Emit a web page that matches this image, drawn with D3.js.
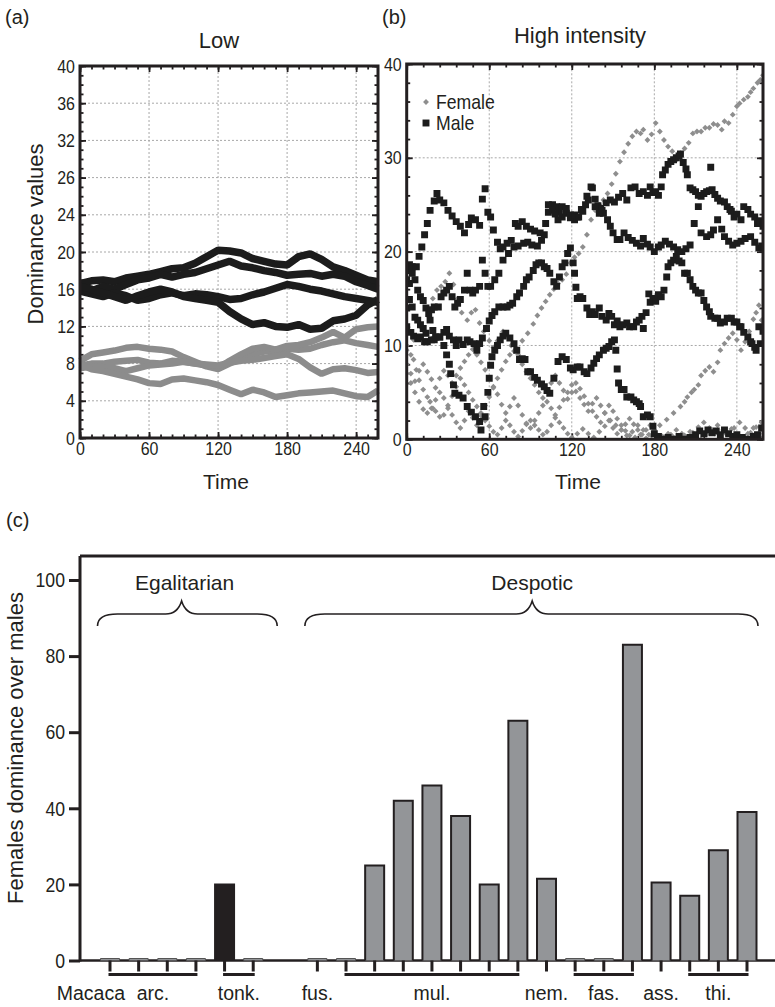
<!DOCTYPE html>
<html>
<head>
<meta charset="utf-8">
<script src="https://cdn.jsdelivr.net/npm/d3@7"></script>
<style>
  body { margin: 0; background: #fff; }
</style>
</head>
<body>
<svg id="chart" width="775" height="1007"></svg>
<script>
// ---------- data: panel (a) Low ----------
var timeLow = [0,10,20,30,40,50,60,70,80,90,100,110,120,130,140,150,160,170,180,190,200,210,220,230,240,250,259];
var maleLow1 = [16.6,16.9,17.0,16.8,17.2,17.4,17.6,17.9,18.2,18.3,18.8,19.5,20.2,20.1,19.9,19.3,19.0,18.7,18.6,19.5,19.8,19.2,18.4,18.0,17.5,17.0,16.8];
var maleLow2 = [16.0,15.8,16.3,16.0,16.5,17.0,17.2,17.6,17.3,17.6,17.8,18.2,18.6,19.0,18.5,18.3,18.0,17.8,17.5,17.6,17.7,17.4,17.6,17.4,16.8,16.4,16.0];
var maleLow3 = [15.8,15.5,15.2,15.6,15.3,14.8,15.0,15.4,15.6,15.3,15.5,15.4,15.2,14.9,15.0,15.4,15.7,16.1,16.5,16.3,16.0,15.8,15.5,15.2,15.0,14.8,14.6];
var maleLow4 = [16.3,16.0,15.6,15.2,14.8,15.3,15.7,16.0,15.7,15.2,15.0,14.8,14.6,13.6,12.8,12.2,12.4,12.0,11.9,12.2,11.7,11.8,12.6,12.8,13.2,14.3,14.9];
var femaleLow1 = [8.3,9.0,9.2,9.4,9.7,9.8,9.6,9.5,9.3,8.7,8.2,7.7,7.4,8.0,8.6,9.0,9.3,9.4,9.6,9.5,9.6,10.0,10.3,10.5,10.2,10.0,9.8];
var femaleLow2 = [7.8,8.0,8.0,8.2,8.3,8.4,8.1,8.0,8.3,8.2,8.0,7.8,7.5,8.3,9.0,9.6,9.8,9.5,9.9,10.0,10.3,10.8,11.4,10.8,11.7,11.9,12.0];
var femaleLow3 = [7.5,7.7,7.6,7.5,7.2,7.5,7.8,7.9,8.0,8.2,8.0,7.9,7.8,8.1,8.3,8.4,8.6,8.8,9.0,8.5,7.6,6.9,7.4,7.5,7.3,7.0,7.1];
var femaleLow4 = [7.9,7.4,7.2,6.9,6.6,6.3,5.9,5.8,6.3,6.4,6.2,6.0,5.7,5.2,4.7,5.2,4.9,4.4,4.6,4.8,4.9,5.0,5.1,4.8,4.5,4.4,5.1];
var yTicksLow = [0,4,8,12,16,20,24,28,32,36,40];
var yTickLabelsLow = ["0","4","8","12","16","20","24","26","32","36","40"];
var xTicksTime = [0,60,120,180,240];

// ---------- data: panel (b) High intensity, [time, value] ----------
var maleHigh1 = [[0,18.0],[2,18.6],[4,18.4],[7,18.4],[9,19.5],[11,20.5],[13,21.8],[15,23.0],[17,24.4],[20,25.4],[22,26.2],[24,25.5],[27,25.2],[30,24.4],[33,23.8],[36,23.2],[39,22.7],[42,22.0],[45,22.9],[47,23.6],[50,23.4],[53,22.8],[55,25.6],[57,26.7],[59,24.2],[61,23.7],[63,22.3],[66,21.0],[68,20.3],[70,20.5],[73,20.9],[76,21.2],[79,23.0],[81,22.7],[84,23.2],[87,22.7],[90,22.4],[93,22.2],[97,22.0],[100,21.8],[103,24.2],[106,25.0],[109,24.8],[111,24.2],[113,23.7],[116,24.1],[119,23.6],[122,23.4],[124,23.7],[127,24.5],[130,25.0],[132,25.5],[135,26.8],[137,25.6],[139,24.9],[141,24.6],[143,24.1],[146,23.4],[148,22.7],[150,22.0],[153,21.3],[155,21.3],[158,22.0],[161,21.5],[164,21.2],[167,20.9],[170,20.6],[172,21.4],[175,20.8],[177,20.5],[180,20.0],[183,20.5],[185,20.7],[188,21.1],[191,20.8],[194,20.5],[197,20.2],[200,20.0],[203,20.3],[206,20.7],[209,23.0],[212,24.8],[214,22.0],[218,21.6],[221,21.8],[223,22.3],[226,23.4],[229,22.4],[231,21.6],[234,21.1],[237,20.7],[240,20.9],[243,21.1],[246,21.4],[250,21.6],[253,21.0],[256,20.4],[258,20.6]];
var maleHigh2 = [[0,17.0],[2,16.6],[4,17.7],[6,17.0],[8,15.9],[10,15.2],[12,14.8],[14,14.0],[16,13.4],[18,13.8],[20,14.1],[23,14.1],[25,15.2],[27,15.6],[29,15.9],[31,16.3],[33,15.2],[35,14.1],[37,14.5],[39,14.9],[42,15.9],[44,17.7],[46,15.9],[48,15.6],[50,15.9],[53,16.3],[55,19.1],[57,17.7],[59,16.3],[61,16.3],[64,17.0],[67,17.7],[70,19.1],[74,19.8],[78,20.5],[81,20.6],[85,20.9],[88,21.0],[91,20.7],[95,20.6],[98,21.2],[101,23.0],[103,25.0],[106,24.4],[108,24.0],[110,23.4],[113,24.8],[116,24.6],[119,23.9],[122,23.9],[125,23.7],[128,24.3],[131,25.9],[134,26.9],[137,24.8],[140,24.1],[142,24.4],[145,25.2],[148,25.5],[151,25.3],[154,25.8],[157,26.2],[160,25.5],[163,26.8],[166,26.9],[169,26.2],[172,26.4],[175,26.0],[177,26.9],[179,26.3],[181,26.4],[183,26.0],[185,26.9],[186,28.2],[188,28.7],[190,29.3],[192,29.6],[194,29.8],[196,30.0],[198,30.2],[199,30.4],[201,29.5],[203,28.8],[204,28.2],[206,26.8],[208,26.6],[210,26.4],[212,26.0],[214,25.9],[216,26.2],[218,26.4],[220,26.5],[221,29.0],[222,26.6],[224,26.1],[226,25.7],[228,25.4],[231,25.3],[233,24.8],[235,24.5],[236,24.3],[238,23.7],[240,24.0],[243,23.4],[245,24.8],[248,24.5],[250,24.0],[253,23.7],[255,23.0],[257,23.3],[259,22.7]];
var maleHigh3 = [[0,14.0],[2,14.9],[4,14.1],[6,13.0],[8,12.7],[10,12.2],[12,11.8],[14,11.3],[17,12.7],[19,11.6],[21,10.9],[24,10.9],[27,11.4],[29,11.7],[31,11.0],[34,10.6],[36,10.0],[38,10.6],[41,10.1],[44,10.6],[46,10.4],[49,10.2],[51,9.5],[53,10.2],[55,10.8],[58,11.8],[60,12.6],[62,13.2],[64,13.6],[67,14.1],[70,14.1],[73,14.1],[75,14.3],[77,14.5],[80,15.2],[82,15.6],[85,16.3],[87,17.0],[89,17.3],[92,18.0],[94,18.6],[96,18.8],[98,18.8],[100,18.4],[102,18.2],[104,17.7],[107,16.8],[109,16.3],[111,17.3],[113,18.4],[115,18.8],[117,19.8],[119,20.4],[121,18.8],[122,17.7],[123,16.2],[124,15.0],[126,15.2],[128,15.0],[131,14.0],[133,13.3],[135,13.6],[137,13.3],[140,14.0],[142,13.1],[145,12.7],[147,13.4],[149,13.1],[151,12.2],[153,12.6],[155,12.0],[157,12.2],[160,12.4],[162,12.0],[165,12.0],[167,12.5],[169,12.7],[171,13.1],[172,11.8],[174,13.5],[176,15.5],[177,14.6],[179,15.0],[181,14.7],[183,15.4],[185,15.2],[187,15.9],[189,17.3],[190,18.4],[192,18.8],[194,19.1],[196,19.5],[198,19.0],[200,18.8],[202,17.7],[204,17.7],[206,17.0],[208,16.3],[210,15.9],[212,15.6],[214,15.6],[216,14.8],[218,14.1],[220,13.6],[221,13.1],[224,12.9],[226,12.9],[228,12.4],[231,12.5],[233,12.9],[236,12.9],[238,12.5],[240,12.5],[242,12.0],[243,12.0],[245,11.4],[248,10.9],[250,10.4],[251,10.2],[253,9.8],[254,9.5],[256,12.0],[257,10.2],[259,11.5]];
var maleHigh4 = [[0,12.0],[3,11.4],[5,11.0],[8,10.7],[10,10.9],[13,10.4],[15,10.4],[18,10.6],[20,10.6],[24,10.9],[27,10.0],[29,9.0],[31,8.0],[32,7.0],[34,5.8],[35,4.9],[38,4.7],[41,4.4],[44,3.5],[47,2.9],[50,2.4],[53,1.9],[54,1.0],[56,3.5],[57,2.4],[59,5.0],[60,6.5],[61,7.9],[62,8.8],[64,9.5],[66,10.0],[68,10.6],[70,11.0],[72,11.3],[75,10.8],[78,10.2],[80,9.5],[82,8.5],[84,8.6],[86,8.5],[88,7.2],[90,7.2],[93,6.6],[95,6.3],[98,5.9],[100,5.6],[102,5.2],[104,4.9],[107,6.5],[110,8.3],[113,8.8],[116,8.5],[119,7.6],[121,7.4],[124,7.7],[126,7.7],[129,7.2],[131,7.0],[134,7.6],[136,8.1],[138,8.6],[140,9.0],[143,9.5],[145,9.7],[147,9.9],[149,10.4],[151,10.6],[152,9.5],[153,7.5],[154,6.0],[156,5.3],[158,5.3],[160,4.5],[163,4.5],[165,4.2],[167,4.0],[169,3.8],[170,3.5],[172,2.4],[175,2.6],[177,2.4],[179,1.4],[180,0.6],[183,0.3],[186,0.0],[190,0.2],[194,0.0],[198,0.3],[202,0.0],[206,0.2],[210,0.5],[213,0.9],[216,0.6],[219,1.0],[222,0.7],[225,0.9],[228,0.5],[231,1.0],[234,0.6],[237,0.3],[240,0.5],[244,0.2],[248,0.0],[252,0.3],[255,0.5],[258,1.2]];
var femaleHigh1 = [[0,9.5],[5,10.6],[10,12.0],[16,13.1],[19,15.0],[22,15.9],[25,16.3],[28,16.8],[31,17.7],[34,16.5],[37,15.0],[40,13.5],[44,12.7],[47,13.5],[50,13.8],[53,12.4],[56,11.5],[60,10.5],[63,9.8],[66,10.5],[70,11.5],[73,11.0],[76,10.0],[80,9.6],[84,10.5],[88,11.3],[92,12.3],[95,13.2],[98,14.0],[101,14.7],[104,15.4],[107,16.0],[110,16.6],[113,17.0],[116,17.6],[119,18.8],[122,19.4],[125,19.8],[128,20.5],[131,21.8],[134,23.4],[137,24.4],[140,25.0],[143,25.5],[146,26.2],[149,27.2],[152,28.3],[155,29.6],[158,30.6],[161,31.5],[164,32.3],[167,32.8],[170,32.6],[172,33.0],[175,31.9],[178,32.5],[181,33.7],[184,32.8],[187,31.9],[190,31.2],[193,30.7],[196,29.8],[199,30.5],[202,31.0],[205,31.6],[208,32.6],[211,32.8],[214,32.8],[217,33.2],[220,33.2],[223,33.6],[226,33.5],[229,33.0],[231,33.9],[234,33.7],[237,34.6],[240,35.5],[242,35.8],[245,36.2],[248,36.5],[250,37.0],[252,37.4],[255,38.0],[257,38.3],[259,38.8]];
var femaleHigh2 = [[0,10.0],[3,9.0],[5,8.5],[7,7.4],[9,6.3],[12,5.3],[15,4.5],[17,4.0],[19,3.3],[21,3.0],[24,2.4],[27,2.6],[30,3.3],[33,4.6],[36,5.6],[39,6.5],[42,5.8],[45,5.0],[48,4.2],[51,3.5],[54,2.8],[57,2.0],[60,1.4],[63,0.8],[66,0.5],[69,1.2],[72,2.0],[75,1.5],[78,0.8],[81,0.3],[84,0.9],[87,1.6],[90,2.0],[93,1.5],[96,1.0],[99,0.5],[102,0.8],[105,1.5],[108,2.3],[111,1.8],[114,1.2],[117,0.6],[120,0.2],[124,0.6],[128,1.1],[132,0.6],[136,0.2],[140,0.8],[144,1.4],[148,2.0],[152,1.5],[156,1.0],[160,0.4],[164,0.8],[168,1.5],[172,1.0],[176,0.5],[180,1.0],[184,1.5],[189,2.1],[194,2.8],[199,3.5],[202,4.0],[204,4.5],[207,5.0],[209,5.3],[212,5.8],[214,6.8],[217,7.3],[220,7.7],[223,7.2],[226,8.2],[228,9.5],[231,10.2],[234,10.8],[237,11.3],[240,10.6],[243,9.5],[246,10.4],[249,11.5],[252,12.8],[254,13.5],[256,14.3],[258,12.7]];
var femaleHigh3 = [[0,8.0],[3,7.0],[6,6.2],[9,7.3],[12,8.0],[15,7.2],[18,6.4],[21,5.5],[24,6.5],[27,7.3],[30,6.8],[33,6.0],[36,6.8],[39,7.6],[42,8.3],[45,9.0],[48,9.6],[51,9.0],[54,8.2],[57,7.4],[60,6.5],[63,5.6],[66,6.5],[69,7.4],[72,8.3],[75,9.0],[78,9.4],[81,9.0],[84,8.0],[87,7.2],[90,6.5],[93,5.8],[96,5.0],[99,4.4],[102,5.2],[105,6.0],[108,6.8],[111,6.0],[114,5.2],[117,4.3],[120,5.0],[123,6.0],[126,5.4],[129,4.6],[132,3.8],[135,3.0],[138,2.4],[141,1.8],[144,2.8],[147,3.6],[150,3.0],[153,2.2],[156,1.5],[159,0.9],[162,0.4],[166,0.2],[170,0.5],[174,0.1],[178,0.4],[182,0.0],[186,0.3],[190,0.6],[194,0.2],[198,0.0],[202,0.4],[206,0.8],[210,0.3],[214,0.0],[218,0.5],[222,1.0],[226,1.5],[230,1.0],[234,0.6],[238,1.2],[242,1.8],[246,1.2],[250,0.7],[254,1.3],[258,1.8]];
var femaleHigh4 = [[0,7.0],[3,6.0],[6,5.0],[9,4.0],[12,3.2],[15,2.8],[18,3.3],[21,4.2],[24,5.0],[27,4.4],[30,3.6],[33,2.6],[36,1.8],[39,1.2],[42,2.0],[45,3.0],[48,2.3],[51,1.5],[54,2.5],[57,3.6],[60,4.5],[63,5.5],[66,4.8],[69,3.7],[72,2.8],[75,3.5],[78,4.4],[81,3.6],[84,2.6],[87,1.7],[90,1.2],[93,2.0],[96,2.8],[99,3.6],[102,4.0],[105,3.3],[108,2.6],[111,3.4],[114,4.2],[117,5.0],[120,5.8],[123,5.1],[126,4.4],[129,3.7],[132,3.0],[135,3.8],[138,4.4],[141,3.6],[144,2.8],[147,2.0],[150,1.2],[153,0.6],[156,1.0],[159,1.6],[162,2.2],[165,1.6],[168,1.0],[171,0.5],[174,1.0],[177,1.5],[180,0.8],[184,0.3],[188,0.0],[192,0.5],[196,1.0],[200,0.6],[204,0.2],[208,0.7],[212,1.3],[216,1.8],[220,1.2],[224,0.6],[228,0.2],[232,0.6],[236,1.1],[240,0.5],[244,0.0],[248,0.6],[252,1.2],[256,0.6],[259,0.2]];
var yTicksHigh = [0,10,20,30,40];

// ---------- data: panel (c) ----------
var barValues = [0,0,0,0,20,0, 0,0,25,42,46,38,20,63,21.5,0,0,83,20.5,17,29,39];
var speciesLabels = ["arc.","tonk.","fus.","mul.","nem.","fas.","ass.","thi."];
var speciesSizes = [4,2,1,7,1,3,1,3];
var styleLabels = ["Egalitarian","Despotic"];
var styleSizes = [6,16];
var yTicksBar = [0,20,40,60,80,100];

// ---------- drawing ----------
var ink = "#231f20", grey = "#8c8c8c";
var regular = "'Liberation Sans', Arial, sans-serif";
var narrow = "'Liberation Sans Narrow', 'Arial Narrow', 'Liberation Sans', sans-serif";
var svg = d3.select("#chart");
svg.append("rect").attr("width", 775).attr("height", 1007).attr("fill", "#fff");

// condensed digits: use a real narrow face if there is one, otherwise squeeze
var probe = svg.append("text").style("font-size", "20px").text("0123456789");
var wideW = probe.style("font-family", regular).node().getComputedTextLength();
var narrowW = probe.style("font-family", narrow).node().getComputedTextLength();
probe.remove();
var squeeze = narrowW / wideW > 0.95 ? 0.84 : 1;
function condense(sel) {
  sel.each(function() {
    var w = this.getComputedTextLength();
    d3.select(this).attr("textLength", w * squeeze).attr("lengthAdjust", "spacingAndGlyphs");
  });
}

function label(x, y, str, size, anchor, rot, fam) {
  return svg.append("text")
    .attr("transform", "translate(" + x + "," + y + ")" + (rot ? "rotate(" + rot + ")" : ""))
    .attr("text-anchor", anchor || "start")
    .style("font-family", fam || regular)
    .style("font-size", size + "px")
    .attr("fill", ink)
    .text(str);
}

function tickSet(axisFn, scale, values, size, tr, fmt, pad) {
  var a = axisFn(scale).tickValues(values).tickSize(size).tickPadding(pad || 3)
    .tickFormat(fmt || (function() { return ""; }));
  var g = svg.append("g").attr("transform", tr).call(a);
  g.select(".domain").remove();
  g.selectAll("line").attr("stroke", ink).attr("stroke-width", 1.8);
  g.selectAll("text").style("font-family", narrow).style("font-size", "19px").attr("fill", ink);
  if (fmt) condense(g.selectAll("text"));
  return g;
}

function framePanel(x, y, xMinor, yMinor, yMajor, yFmt) {
  var xl = x.range()[0], xr = x.range()[1], yb = y.range()[0], yt = y.range()[1];
  var grid = svg.append("g").attr("stroke", "#a8a8a8").attr("stroke-width", 1).attr("stroke-dasharray", "2,2");
  grid.selectAll(null).data(xTicksTime.slice(1)).enter().append("line")
    .attr("x1", function(d) { return x(d); }).attr("x2", function(d) { return x(d); })
    .attr("y1", yb).attr("y2", yt);
  grid.selectAll(null).data(yMajor.slice(1, -1)).enter().append("line")
    .attr("y1", function(d) { return y(d); }).attr("y2", function(d) { return y(d); })
    .attr("x1", xl).attr("x2", xr);

  tickSet(d3.axisBottom, x, xMinor, -3.5, "translate(0," + yb + ")");
  tickSet(d3.axisBottom, x, xTicksTime, -6, "translate(0," + yb + ")", d3.format("d"), 3);
  tickSet(d3.axisTop, x, xMinor, -3.5, "translate(0," + yt + ")");
  tickSet(d3.axisTop, x, xTicksTime, -6, "translate(0," + yt + ")");
  tickSet(d3.axisLeft, y, yMinor, -3.5, "translate(" + xl + ",0)");
  tickSet(d3.axisLeft, y, yMajor, -6, "translate(" + xl + ",0)", yFmt, 5);
  tickSet(d3.axisRight, y, yMinor, -3.5, "translate(" + xr + ",0)");
  tickSet(d3.axisRight, y, yMajor, -6, "translate(" + xr + ",0)");
}

// ----- panel (a)
var xA = d3.scaleLinear().domain([0, 259]).range([80, 378]);
var yA = d3.scaleLinear().domain([0, 40]).range([438, 66]);
framePanel(xA, yA, d3.range(0, 259, 10), d3.range(0, 41, 1), yTicksLow,
  function(d, i) { return yTickLabelsLow[i]; });

var lineA = d3.line().x(function(d, i) { return xA(timeLow[i]); }).y(function(d) { return yA(d); });
[femaleLow1, femaleLow2, femaleLow3, femaleLow4].forEach(function(s) {
  svg.append("path").attr("d", lineA(s)).attr("fill", "none").attr("stroke", grey)
    .attr("stroke-width", 6.5).attr("stroke-linejoin", "bevel");
});
[maleLow1, maleLow2, maleLow3, maleLow4].forEach(function(s) {
  svg.append("path").attr("d", lineA(s)).attr("fill", "none").attr("stroke", "#1c1c1c")
    .attr("stroke-width", 7.5).attr("stroke-linejoin", "bevel");
});
svg.append("rect").attr("x", 80).attr("y", 66).attr("width", 298).attr("height", 372)
  .attr("fill", "none").attr("stroke", ink).attr("stroke-width", 3);

label(5, 24, "(a)", 20);
label(219, 48, "Low", 22, "middle");
label(43, 234, "Dominance values", 22, "middle", -90);
label(226, 489, "Time", 21, "middle");

// ----- panel (b)
var xB = d3.scaleLinear().domain([0, 259]).range([406.7, 763]);
var yB = d3.scaleLinear().domain([0, 40]).range([439.3, 64]);
framePanel(xB, yB, d3.range(0, 259, 12), d3.range(0, 41, 2), yTicksHigh, d3.format("d"));

svg.append("clipPath").attr("id", "clipB").append("rect")
  .attr("x", 406.7).attr("y", 64).attr("width", 356.3).attr("height", 375.3);
var dots = svg.append("g").attr("clip-path", "url(#clipB)");
var diamond = d3.symbol(d3.symbolDiamond2, 22);
var square = d3.symbol(d3.symbolSquare, 48);
[femaleHigh1, femaleHigh2, femaleHigh3, femaleHigh4].forEach(function(s) {
  dots.selectAll(null).data(s).enter().append("path").attr("d", diamond)
    .attr("transform", function(d) { return "translate(" + xB(d[0]) + "," + yB(d[1]) + ")"; })
    .attr("fill", "#8e8e8e");
});
[maleHigh1, maleHigh2, maleHigh3, maleHigh4].forEach(function(s) {
  dots.selectAll(null).data(s).enter().append("path").attr("d", square)
    .attr("transform", function(d) { return "translate(" + xB(d[0]) + "," + yB(d[1]) + ")"; })
    .attr("fill", "#1c1c1c");
});
svg.append("rect").attr("x", 406.7).attr("y", 64).attr("width", 356.3).attr("height", 375.3)
  .attr("fill", "none").attr("stroke", ink).attr("stroke-width", 3);

// legend
svg.append("path").attr("d", diamond).attr("transform", "translate(426,102)").attr("fill", "#8e8e8e");
svg.append("path").attr("d", square).attr("transform", "translate(426,123)").attr("fill", "#1c1c1c");
condense(label(436, 109, "Female", 21, "start", 0, narrow));
condense(label(436, 130, "Male", 21, "start", 0, narrow));

label(382, 24, "(b)", 20);
label(580, 43, "High intensity", 22, "middle");
label(578, 489, "Time", 21, "middle");

// ----- panel (c)
var groupGap = 1.24;
function slot(i) { return i < styleSizes[0] ? i : i + groupGap; }
var xC = d3.scaleLinear().domain([0, slot(barValues.length - 1)]).range([110, 747]);
var yC = d3.scaleLinear().domain([0, 100]).range([960.5, 580]);
var bw = 19, base = yC(0);

label(6, 527, "(c)", 20);

var gy = svg.append("g").attr("transform", "translate(80,0)")
  .call(d3.axisLeft(yC).tickValues(yTicksBar).tickSize(11).tickPadding(4));
gy.select(".domain").remove();
gy.selectAll("line").attr("stroke", ink).attr("stroke-width", 3);
gy.selectAll("text").style("font-family", narrow).style("font-size", "21px").attr("fill", ink);
condense(gy.selectAll("text"));

// frame lines
svg.append("line").attr("x1", 80).attr("x2", 775).attr("y1", 556).attr("y2", 556).attr("stroke", ink).attr("stroke-width", 3);
svg.append("line").attr("x1", 80).attr("x2", 80).attr("y1", 556).attr("y2", base + 1).attr("stroke", ink).attr("stroke-width", 3);
svg.append("line").attr("x1", 80).attr("x2", 775).attr("y1", base).attr("y2", base).attr("stroke", ink).attr("stroke-width", 2.5);

// bars (zero bars stay visible as a thin cap on the baseline)
svg.selectAll(".bar").data(barValues).enter().append("path")
  .attr("d", function(d, i) {
    var x0 = xC(slot(i)) - bw / 2, top = Math.min(yC(d), base - 2);
    return "M" + x0 + "," + base + "V" + top + "H" + (x0 + bw) + "V" + base;
  })
  .attr("fill", function(d, i) { return i === 4 ? ink : "#939598"; })
  .attr("stroke", function(d) { return d > 0 ? ink : "#555"; })
  .attr("stroke-width", function(d) { return d > 0 ? 2 : 1; });

// bar ticks
svg.selectAll(".btick").data(barValues).enter().append("line")
  .attr("x1", function(d, i) { return xC(slot(i)); }).attr("x2", function(d, i) { return xC(slot(i)); })
  .attr("y1", base).attr("y2", base + 11).attr("stroke", ink).attr("stroke-width", 3);

// species groups
var start = 0;
speciesLabels.forEach(function(s, k) {
  var first = start, last = start + speciesSizes[k] - 1;
  var xa = xC(slot(first)), xb = xC(slot(last));
  if (last > first) {
    svg.append("line").attr("x1", xa - 1.5).attr("x2", xb + 1.5).attr("y1", 974.5).attr("y2", 974.5)
      .attr("stroke", ink).attr("stroke-width", 3);
  }
  label((xa + xb) / 2, 1000, s, 19.5, "middle");
  if (k === 0) label(xa + 15, 1000, "Macaca", 19.5, "end");
  start = last + 1;
});

// social style braces
function brace(x0, xm, x1, yt, yf, yb) {
  return "M" + x0 + "," + yb + "Q" + x0 + "," + yf + " " + (x0 + 20) + "," + yf +
    "L" + (xm - 16) + "," + yf + "Q" + (xm - 4) + "," + yf + " " + xm + "," + yt +
    "Q" + (xm + 4) + "," + yf + " " + (xm + 16) + "," + yf +
    "L" + (x1 - 20) + "," + yf + "Q" + x1 + "," + yf + " " + x1 + "," + yb;
}
var s0 = 0;
styleLabels.forEach(function(s, k) {
  var first = s0, last = s0 + styleSizes[k] - 1;
  var xa = xC(slot(first)), xb = xC(slot(last)), xm = (xa + xb) / 2;
  var x0 = xa - 12.5, x1 = xb + (k === 0 ? 24 : 11);
  svg.append("path").attr("d", brace(x0, xm, x1, 601, 614, 626))
    .attr("fill", "none").attr("stroke", ink).attr("stroke-width", 1.6);
  label(xm + (k === 0 ? 3 : 0), 590, s, 21, "middle");
  s0 = last + 1;
});

label(23, 748, "Females dominance over males", 22, "middle", -90);
</script>
</body>
</html>
